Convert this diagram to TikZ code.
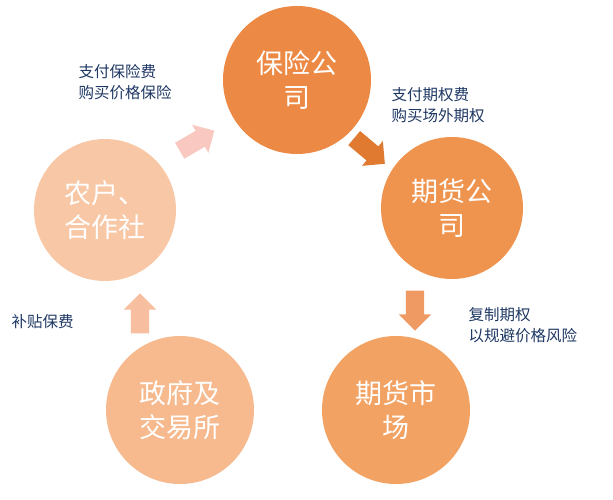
\documentclass[tikz,border=0pt]{standalone}
\usepackage{fontspec}
\newfontfamily\cjk{Noto Sans CJK SC}
\usetikzlibrary{shapes.arrows}
\definecolor{c1}{HTML}{EC8A45}
\definecolor{c2}{HTML}{EF944F}
\definecolor{c3}{HTML}{F2A263}
\definecolor{c4}{HTML}{F6BA8E}
\definecolor{c5}{HTML}{F8C8A6}
\definecolor{a1}{HTML}{E07A30}
\definecolor{a2}{HTML}{EE9A62}
\definecolor{a3}{HTML}{F7BFA0}
\definecolor{a4}{HTML}{F9C8C0}
\definecolor{lab}{HTML}{1F3864}
\tikzset{
 circ/.style={circle,minimum size=148pt,inner sep=0pt,text=white,align=center,font=\cjk\fontsize{27}{34}\selectfont},
 arr/.style={single arrow,minimum height=40pt,inner sep=9pt,single arrow head extend=7pt,single arrow head indent=0pt,draw=none},
 lbl/.style={text=lab,align=left,font=\cjk\fontsize{15.5}{21}\selectfont,anchor=west}
}
\begin{document}
\begin{tikzpicture}[x=1pt,y=-1pt]
\useasboundingbox[fill=white] (0,0) rectangle (613,500);
\node[circ,fill=c1] (bx) at (297,80) {保险公\\司};
\node[circ,fill=c2,minimum size=142pt] (qh) at (452,208) {期货公\\司};
\node[circ,fill=c3] (sc) at (396,410) {期货市\\场};
\node[circ,fill=c4] (zf) at (180,410) {政府及\\交易所};
\node[circ,fill=c5,minimum size=142pt] (nh) at (105,210) {农户、\\合作社};
\node[arr,fill=a1,rotate=-40] (r1) at (366,148) {};
\node[arr,fill=a2,rotate=-90] (r2) at (415,306) {};
\node[arr,fill=a3,rotate=90] (r3) at (140,318) {};
\node[arr,fill=a4,rotate=30] (r4) at (193,143) {};
\node[lbl] (l1) at (75,82) {支付保险费\\购买价格保险};
\node[lbl] (l2) at (388,105) {支付期权费\\购买场外期权};
\node[lbl] (l3) at (465,325) {复制期权\\以规避价格风险};
\node[lbl] (l4) at (8,322) {补贴保费};
\end{tikzpicture}
\end{document}
